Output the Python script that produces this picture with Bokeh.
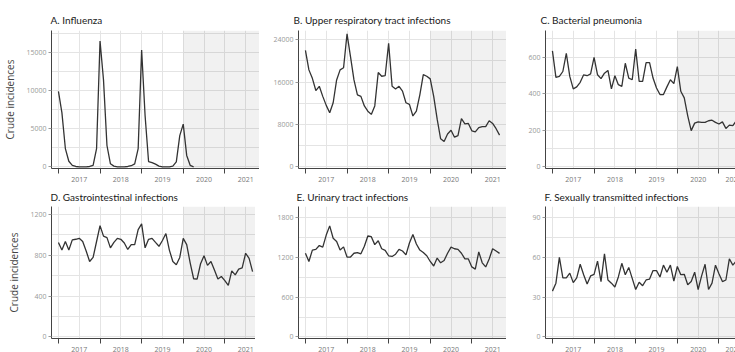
from bokeh.plotting import figure
from bokeh.layouts import gridplot
from bokeh.models import Range1d, FixedTicker, BoxAnnotation
from bokeh.embed import file_html
from bokeh.resources import INLINE

# ---- data (monthly crude incidences, month 0 = Jan 2017) ----
years = [2017, 2018, 2019, 2020, 2021]

influenza = [9900, 7100, 2400, 730, 200, 50, 0, 0, 0, 50, 200, 2400,
             16500, 11400, 2800, 400, 100, 0, 0, 0, 50, 150, 400, 2400,
             15300, 6700, 700, 550, 350, 100, 0, 0, 0, 100, 650, 4100,
             5600, 1500, 200, 0]
urti = [22000, 18300, 16700, 14400, 15200, 13300, 11600, 10200, 12100, 16400, 18300, 18700,
        25100, 20800, 16400, 13600, 13300, 11500, 10500, 9900, 11500, 17800, 17100, 17200,
        23300, 15200, 14700, 15200, 14300, 12100, 11800, 9600, 10500, 13600, 17400, 17100,
        16600, 13300, 9000, 5300, 4800, 6200, 6900, 5600, 5900, 9100, 8100, 8200,
        6800, 6600, 7400, 7600, 7600, 8700, 8200, 7200, 6000]
pneumonia = [634, 489, 494, 521, 620, 494, 426, 437, 462, 503, 498, 508,
             598, 503, 482, 512, 527, 426, 498, 449, 440, 566, 485, 476,
             643, 467, 467, 570, 570, 485, 431, 395, 395, 437, 476, 455,
             548, 413, 377, 279, 198, 239, 246, 243, 243, 252, 255, 243,
             234, 246, 210, 228, 225, 252, 288, 318, 300]
gastro = [926, 851, 935, 851, 951, 957, 966, 935, 842, 739, 779, 935,
          1091, 988, 973, 873, 926, 966, 957, 920, 857, 904, 904, 1051,
          1107, 873, 957, 966, 926, 888, 945, 1013, 851, 739, 708, 779,
          966, 904, 726, 570, 567, 717, 795, 701, 739, 655, 567, 592,
          552, 505, 648, 608, 664, 676, 820, 770, 640]
urinary = [1262, 1138, 1310, 1320, 1378, 1354, 1536, 1675, 1488, 1440, 1310, 1358,
           1205, 1205, 1262, 1272, 1253, 1368, 1522, 1512, 1392, 1450, 1330, 1306,
           1224, 1214, 1248, 1320, 1296, 1238, 1416, 1546, 1402, 1310, 1272, 1224,
           1138, 1070, 1190, 1118, 1152, 1262, 1354, 1330, 1320, 1262, 1176, 1176,
           1056, 1022, 1282, 1118, 1056, 1176, 1330, 1296, 1260]
sti = [34.6, 40.6, 60.1, 44.6, 44.6, 48.2, 41.0, 44.6, 54.9, 47.0, 39.9, 46.1,
       47.3, 57.3, 41.8, 62.8, 43.0, 40.6, 37.7, 45.3, 55.6, 47.0, 52.5, 44.2,
       35.8, 41.3, 38.7, 43.0, 43.7, 50.1, 50.1, 45.3, 54.2, 48.9, 54.2, 42.2,
       53.2, 47.0, 47.3, 39.4, 41.8, 48.9, 35.8, 46.1, 54.9, 35.8, 40.6, 54.2,
       47.7, 41.8, 43.0, 59.0, 54.2, 57.3, 46.5, 37.0, 36.0]

titles = ["A. Influenza", "B. Upper respiratory tract infections", "C. Bacterial pneumonia",
          "D. Gastrointestinal infections", "E. Urinary tract infections",
          "F. Sexually transmitted infections"]
series = [influenza, urti, pneumonia, gastro, urinary, sti]
y_major = [[0, 5000, 10000, 15000], [0, 8000, 16000, 24000], [0, 200, 400, 600],
           [0, 400, 800, 1200], [0, 600, 1200, 1800], [0, 30, 60, 90]]
y_minor = [[2500, 7500, 12500, 17500], [4000, 12000, 20000], [100, 300, 500, 700],
           [200, 600, 1000], [300, 900, 1500], [15, 45, 75]]
y_top = [17870, 25730, 745, 1278, 1967, 98.5]
ylabel = "Crude incidences"
covid_start = 36  # Jan 2020

FONT = "Open Sans"
TFONT = "Lato"
GRID = "#e4e4e4"
title_offsets = [-1, -5, -5, -1, -2, -1]

def make_panel(i):
    col = i % 3
    row = i // 3
    x_end = 54.5 if col == 2 else 58
    fw = 196 if col == 2 else 208
    fh = 138 if row == 0 else 132
    p = figure(output_backend="svg", toolbar_location=None,
               frame_width=fw, frame_height=fh,
               x_range=Range1d(-2, x_end),
               y_range=Range1d(-0.012 * y_top[i], y_top[i]),
               min_border_left=45 if col == 0 else 39, min_border_right=0,
               min_border_top=30 if row == 0 else 21,
               min_border_bottom=15 if row == 0 else 0,
               background_fill_color="white", border_fill_color="white",
               outline_line_color=None)
    p.title.text = titles[i]
    p.title.text_font = TFONT
    p.title.text_font_size = "10px"
    p.title.text_font_style = "normal"
    p.title.text_color = "#1a1a1a"
    p.title.standoff = 9 if row == 0 else 8
    p.title.offset = title_offsets[i]

    # x axis: year labels at mid-year, marks at year boundaries
    bounds = [(y - years[0]) * 12 for y in years]
    mids = [b + 6 for b in bounds]
    p.xaxis.ticker = FixedTicker(ticks=mids, minor_ticks=bounds)
    p.xaxis.major_label_overrides = {m: str(y) for m, y in zip(mids, years)}
    p.xaxis.major_tick_line_color = None
    p.xaxis.major_tick_out = 0
    p.xaxis.major_tick_in = 0
    p.xaxis.minor_tick_out = 5
    p.xaxis.minor_tick_in = 0
    p.xaxis.minor_tick_line_color = "#444444"
    p.xaxis.minor_tick_line_width = 1
    p.xaxis.major_label_standoff = 3
    p.xaxis.major_label_text_font = FONT
    p.xaxis.major_label_text_font_size = "7px"
    p.xaxis.major_label_text_color = "#777777"
    p.xaxis.axis_line_color = "#444444"

    # y axis
    p.yaxis.ticker = FixedTicker(ticks=y_major[i], minor_ticks=y_minor[i])
    p.yaxis.major_label_overrides = {t: str(t) for t in y_major[i]}
    p.yaxis.major_tick_out = 3
    p.yaxis.major_tick_in = 0
    p.yaxis.major_tick_line_color = "#999999"
    p.yaxis.minor_tick_line_color = None
    p.yaxis.major_label_standoff = 1
    p.yaxis.major_label_text_font = FONT
    p.yaxis.major_label_text_font_size = "7px"
    p.yaxis.major_label_text_color = "#999999"
    p.yaxis.axis_line_color = "#444444"
    if col == 0:
        p.yaxis.axis_label = ylabel
        p.yaxis.axis_label_text_font = FONT
        p.yaxis.axis_label_text_font_size = "10px"
        p.yaxis.axis_label_text_font_style = "normal"
        p.yaxis.axis_label_text_color = "#444444"
        p.yaxis.axis_label_standoff = 6

    for g in (p.xgrid, p.ygrid):
        g.grid_line_color = GRID
        g.grid_line_width = 1
        g.minor_grid_line_color = GRID
        g.minor_grid_line_width = 1

    p.add_layout(BoxAnnotation(left=covid_start, fill_color="black", fill_alpha=0.055,
                               line_color=None, level="underlay"))
    ys = series[i]
    p.line(list(range(len(ys))), ys, line_color="#333333", line_width=1.3)
    return p

panels = [make_panel(i) for i in range(6)]
grid = gridplot([panels[0:3], panels[3:6]], toolbar_location=None)

open("out.html", "w").write(file_html(grid, INLINE))
